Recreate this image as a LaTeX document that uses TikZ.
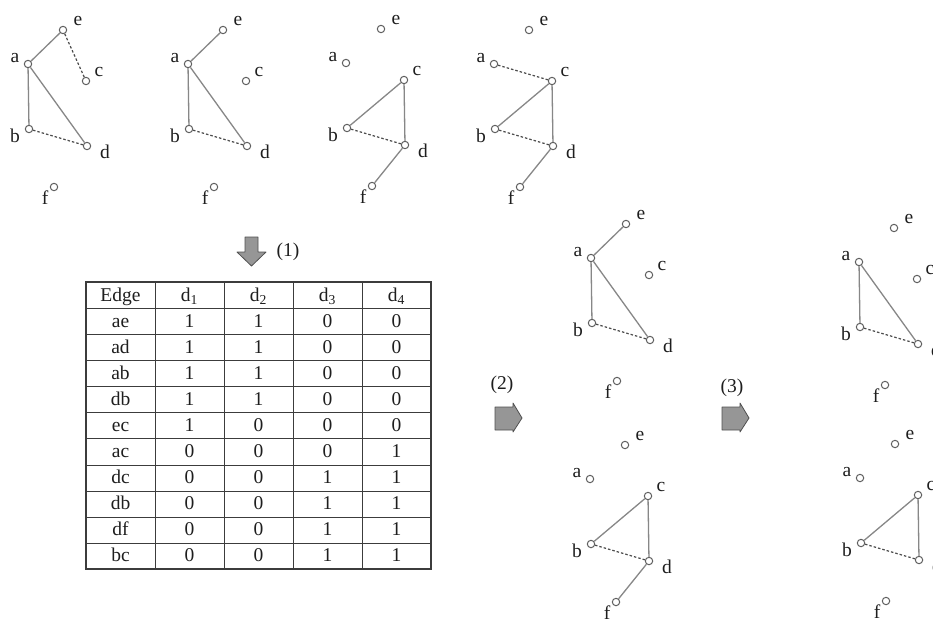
\documentclass[tikz,border=0pt]{standalone}
\usepackage{fontspec}
\setmainfont{Liberation Serif}
\definecolor{vcol}{RGB}{95,95,95}
\definecolor{ecol}{RGB}{135,135,135}
\definecolor{dcol}{RGB}{75,75,75}
\definecolor{txtcol}{RGB}{30,30,30}
\definecolor{tabcol}{RGB}{60,60,60}
\definecolor{arrfill}{RGB}{150,150,150}
\definecolor{arrdraw}{RGB}{80,80,80}
\tikzset{
  vtx/.style={circle, draw=vcol, fill=white, line width=1pt, minimum size=7.4pt, inner sep=0pt},
  lbl/.style={font=\fontsize{19.5}{20}\selectfont, inner sep=0pt, text=txtcol},
  sedge/.style={draw=ecol, line width=1.3pt},
  dedge/.style={draw=dcol, line width=1.2pt, dash pattern=on 2.5pt off 2pt},
  tabline/.style={draw=tabcol, line width=0.9pt},
  tabouter/.style={draw=tabcol, line width=1.5pt},
  cell/.style={font=\fontsize{19.5}{20}\selectfont, inner sep=0pt, text=txtcol, anchor=base},
  blockarrow/.style={fill=arrfill, draw=arrdraw, line width=0.8pt, line join=round},
}
\newcommand\gnodes[3]{%
  \begin{scope}[shift={(#2,#3)}]
    \node[vtx] (#1a) at (0,0) {};
    \node[vtx] (#1e) at (35,-34) {};
    \node[vtx] (#1c) at (58,17) {};
    \node[vtx] (#1b) at (1,65) {};
    \node[vtx] (#1d) at (59,82) {};
    \node[vtx] (#1f) at (26,123) {};
    \node[lbl] (#1al) at (-13,-6) {a};
    \node[lbl] (#1el) at (50,-43) {e};
    \node[lbl] (#1cl) at (71,8) {c};
    \node[lbl] (#1bl) at (-13,72) {b};
    \node[lbl] (#1dl) at (77,88) {d};
    \node[lbl] (#1fl) at (17,134) {f};
  \end{scope}}
\begin{document}
\begin{tikzpicture}[x=1pt,y=-1pt]
\clip (0,0) rectangle (933,622);
\fill[white] (0,0) rectangle (933,622);

% ---- top row of graphs ----
\gnodes{g1}{28}{64}
\draw[sedge] (g1a) -- (g1e);
\draw[dedge] (g1e) -- (g1c);
\draw[sedge] (g1a) -- (g1b);
\draw[sedge] (g1a) -- (g1d);
\draw[dedge] (g1b) -- (g1d);

\gnodes{g2}{188}{64}
\draw[sedge] (g2a) -- (g2e);
\draw[sedge] (g2a) -- (g2b);
\draw[sedge] (g2a) -- (g2d);
\draw[dedge] (g2b) -- (g2d);

\gnodes{g3}{346}{63}
\draw[sedge] (g3c) -- (g3b);
\draw[sedge] (g3c) -- (g3d);
\draw[dedge] (g3b) -- (g3d);
\draw[sedge] (g3d) -- (g3f);

\gnodes{g4}{494}{64}
\draw[dedge] (g4a) -- (g4c);
\draw[sedge] (g4c) -- (g4b);
\draw[sedge] (g4c) -- (g4d);
\draw[dedge] (g4b) -- (g4d);
\draw[sedge] (g4d) -- (g4f);

% ---- right graphs ----
\gnodes{g5}{591}{258}
\draw[sedge] (g5a) -- (g5e);
\draw[sedge] (g5a) -- (g5b);
\draw[sedge] (g5a) -- (g5d);
\draw[dedge] (g5b) -- (g5d);

\gnodes{g6}{590}{479}
\draw[sedge] (g6c) -- (g6b);
\draw[sedge] (g6c) -- (g6d);
\draw[dedge] (g6b) -- (g6d);
\draw[sedge] (g6d) -- (g6f);

\gnodes{g7}{859}{262}
\draw[sedge] (g7a) -- (g7b);
\draw[sedge] (g7a) -- (g7d);
\draw[dedge] (g7b) -- (g7d);

\gnodes{g8}{860}{478}
\draw[sedge] (g8c) -- (g8b);
\draw[sedge] (g8c) -- (g8d);
\draw[dedge] (g8b) -- (g8d);

% ---- block arrows ----
\draw[blockarrow] (245,237) -- (258,237) -- (258,252) -- (266,252) -- (251.5,266) -- (237,252) -- (245,252) -- cycle;
\node[lbl] (l1) at (288,252) {(1)};

\draw[blockarrow] (495,407) -- (513,407) -- (513,403) -- (522,418) -- (513,432) -- (513,430) -- (495,430) -- cycle;
\node[lbl] (l2) at (502,385) {(2)};

\draw[blockarrow] (722,407) -- (740,407) -- (740,403) -- (749,418) -- (740,432) -- (740,430) -- (722,430) -- cycle;
\node[lbl] (l3) at (732,388) {(3)};

% ---- table ----
\foreach \yy in {308,334,360,386,412,438,465,491,517,543}
  \draw[tabline] (86,\yy) -- (431,\yy);
\foreach \xx in {155,224,293,362}
  \draw[tabline] (\xx,282) -- (\xx,569);
\draw[tabouter] (86,282) rectangle (431,569);

\node[cell] (h0) at (120.5,301) {Edge};
\node[cell] (h1) at (189.5,301) {d\textsubscript{1}};
\node[cell] (h2) at (258.5,301) {d\textsubscript{2}};
\node[cell] (h3) at (327.5,301) {d\textsubscript{3}};
\node[cell] (h4) at (396.5,301) {d\textsubscript{4}};

\foreach \e/\p/\q/\r/\s [count=\i] in {ae/1/1/0/0, ad/1/1/0/0, ab/1/1/0/0, db/1/1/0/0, ec/1/0/0/0, ac/0/0/0/1, dc/0/0/1/1, db/0/0/1/1, df/0/0/1/1, bc/0/0/1/1}{
  \pgfmathsetmacro\yb{308+26.1*(\i-1)+19}
  \node[cell] (r\i c0) at (120.5,\yb) {\e};
  \node[cell] (r\i c1) at (189.5,\yb) {\p};
  \node[cell] (r\i c2) at (258.5,\yb) {\q};
  \node[cell] (r\i c3) at (327.5,\yb) {\r};
  \node[cell] (r\i c4) at (396.5,\yb) {\s};
}
\end{tikzpicture}
\end{document}
